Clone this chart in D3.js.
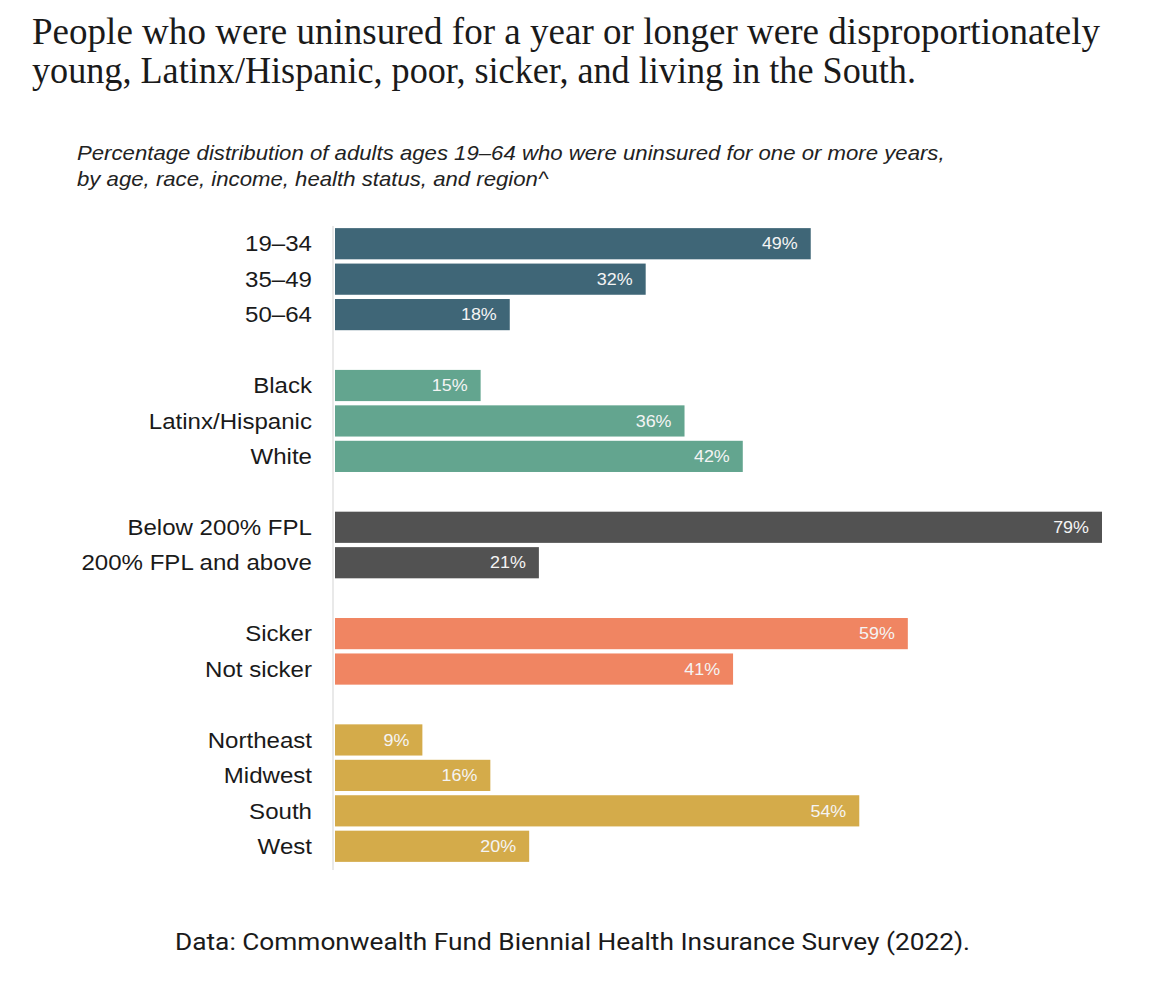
<!DOCTYPE html>
<html>
<head>
<meta charset="utf-8">
<script src="https://cdn.jsdelivr.net/npm/d3@7"></script>
<style>
  body { margin: 0; background: #fff; }
</style>
</head>
<body>
<div id="chart"></div>
<script>
// data
var categories = ["19–34", "35–49", "50–64", "Black", "Latinx/Hispanic", "White",
  "Below 200% FPL", "200% FPL and above", "Sicker", "Not sicker",
  "Northeast", "Midwest", "South", "West"];
var values = [49, 32, 18, 15, 36, 42, 79, 21, 59, 41, 9, 16, 54, 20];
var groups = ["age", "age", "age", "race", "race", "race", "income", "income",
  "health", "health", "region", "region", "region", "region"];
var groupColors = {
  age: "#3f6677",
  race: "#63a58f",
  income: "#525252",
  health: "#f08562",
  region: "#d4ab4a"
};

var width = 1162, height = 993;
var stretch = 1.12; // source text is a bit wide

var svg = d3.select("#chart").append("svg")
  .attr("width", width)
  .attr("height", height);

var sans = "'Liberation Sans', Arial, sans-serif";

// put a text at x,y but widened horizontally
function wideText(x, y) {
  return svg.append("g")
    .attr("transform", `translate(${x},${y}) scale(${stretch},1)`)
    .append("text");
}

// title
var title = svg.append("text")
  .attr("font-family", "'Liberation Serif', serif")
  .attr("font-size", 37)
  .attr("fill", "#1a1a1a");
title.append("tspan").attr("x", 32).attr("y", 44)
  .attr("textLength", 1068).attr("lengthAdjust", "spacingAndGlyphs")
  .text("People who were uninsured for a year or longer were disproportionately");
title.append("tspan").attr("x", 32).attr("y", 83)
  .attr("textLength", 884).attr("lengthAdjust", "spacingAndGlyphs")
  .text("young, Latinx/Hispanic, poor, sicker, and living in the South.");

// subtitle
var sub = wideText(77, 0)
  .attr("font-family", sans)
  .attr("font-style", "italic")
  .attr("font-size", 19.8)
  .attr("fill", "#222");
sub.append("tspan").attr("x", 0).attr("y", 160)
  .text("Percentage distribution of adults ages 19–64 who were uninsured for one or more years,");
sub.append("tspan").attr("x", 0).attr("y", 186)
  .text("by age, race, income, health status, and region^");

// row slots: a blank row between groups
var slots = [];
var slot = 0;
categories.forEach(function (c, i) {
  if (i > 0 && groups[i] !== groups[i - 1]) slot++;
  slots.push(slot);
  slot++;
});

var y = d3.scaleBand()
  .domain(d3.range(slot))
  .range([226, 864])
  .paddingInner(0.12)
  .paddingOuter(0.06);

var x = d3.scaleLinear()
  .domain([0, 79])
  .range([335, 1102]);

// axis line
svg.append("line")
  .attr("x1", 333).attr("x2", 333)
  .attr("y1", y.range()[0]).attr("y2", y.range()[1] + 6)
  .attr("stroke", "#e2e2e2")
  .attr("stroke-width", 1.5);

svg.selectAll(".bar")
  .data(categories)
  .enter()
  .append("rect")
  .attr("class", "bar")
  .attr("x", x(0))
  .attr("y", (d, i) => y(slots[i]))
  .attr("width", (d, i) => x(values[i]) - x(0))
  .attr("height", y.bandwidth())
  .attr("fill", (d, i) => groupColors[groups[i]]);

categories.forEach(function (c, i) {
  var cy = y(slots[i]) + y.bandwidth() / 2;

  wideText(312, cy)
    .attr("dy", "0.36em")
    .attr("text-anchor", "end")
    .attr("font-family", sans)
    .attr("font-size", 21.5)
    .attr("fill", "#1a1a1a")
    .text(c);

  wideText(x(values[i]) - 13, cy)
    .attr("dy", "0.36em")
    .attr("text-anchor", "end")
    .attr("font-family", sans)
    .attr("font-size", 16)
    .attr("fill", "#f4f4f4")
    .text(values[i] + "%");
});

// source note
svg.append("text")
  .attr("x", 175)
  .attr("y", 950)
  .attr("textLength", 795).attr("lengthAdjust", "spacingAndGlyphs")
  .attr("font-family", "Roboto, 'Liberation Sans', sans-serif")
  .attr("font-size", 23)
  .attr("fill", "#1a1a1a")
  .text("Data: Commonwealth Fund Biennial Health Insurance Survey (2022).");
</script>
</body>
</html>
